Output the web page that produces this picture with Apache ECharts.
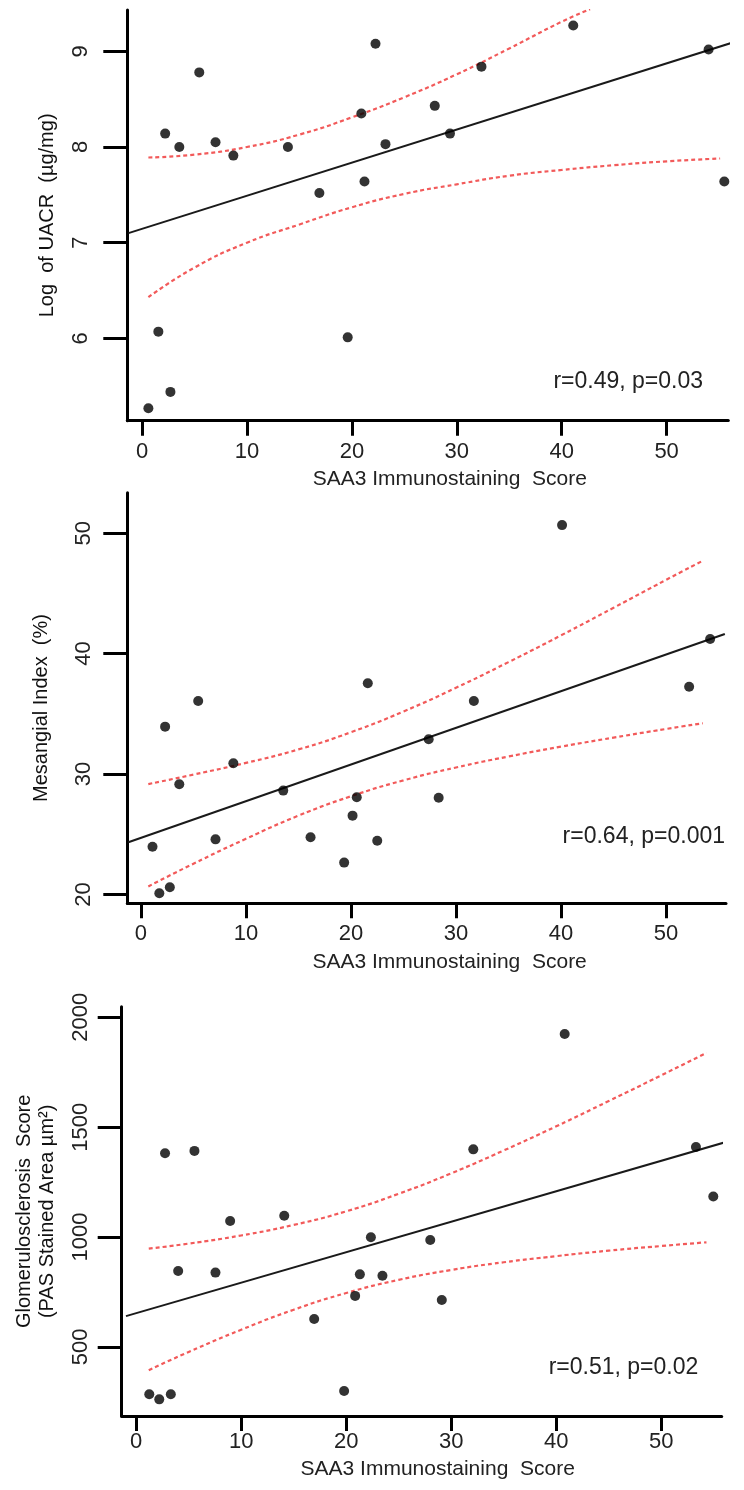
<!DOCTYPE html>
<html><head><meta charset="utf-8">
<script src="https://cdn.jsdelivr.net/npm/echarts@6/dist/echarts.min.js"></script>
<style>html,body{margin:0;padding:0;background:#fff}#c{width:744px;height:1490px}</style>
</head><body><div id="c"></div>
<script>
// ---- tick labels ----
const xTicks = [0, 10, 20, 30, 40, 50];
const uacrTicks = [6, 7, 8, 9];
const mesTicks = [20, 30, 40, 50];
const gsTicks = [500, 1000, 1500, 2000];

// ---- panel 1: Log of UACR ----
const uacrScore = [0.6, 1.55, 2.7, 2.2, 3.55, 5.45, 7.0, 8.7, 13.9, 16.9, 19.6, 20.9, 21.2, 22.25, 23.2, 27.9, 29.35, 32.35, 41.1, 54.0, 55.5];
const uacrValue = [5.27, 6.07, 5.44, 8.14, 8.00, 8.78, 8.05, 7.91, 8.00, 7.52, 6.01, 8.35, 7.64, 9.08, 8.03, 8.43, 8.14, 8.84, 9.27, 9.02, 7.64];
const uacrFitX = [-1.3, 57.4];
const uacrFitY = [7.10, 9.13];
const uacrUpperX = [0.6, 5, 10, 15, 20, 25, 30, 35, 40, 42.7];
const uacrUpperY = [7.89, 7.92, 8.00, 8.13, 8.31, 8.52, 8.76, 9.03, 9.31, 9.44];
const uacrLowerX = [0.6, 5, 10, 15, 20, 25, 30, 35, 40, 45, 50, 55.1];
const uacrLowerY = [6.43, 6.74, 7.00, 7.19, 7.37, 7.51, 7.61, 7.70, 7.76, 7.81, 7.85, 7.88];

// ---- panel 2: Mesangial Index ----
const mesScore = [1.1, 1.75, 2.75, 2.3, 3.65, 5.45, 7.1, 8.8, 13.55, 16.15, 19.35, 20.15, 20.55, 21.6, 22.5, 27.4, 28.35, 31.7, 40.1, 52.2, 54.2];
const mesValue = [23.96, 20.09, 20.59, 33.93, 29.14, 36.06, 24.57, 30.89, 28.62, 24.74, 22.64, 26.54, 28.06, 37.53, 24.46, 32.88, 28.03, 36.06, 50.67, 37.25, 41.21];
const mesFitX = [-1.2, 55.6];
const mesFitY = [24.33, 41.62];
const mesBandX = [0.7, 5, 10, 15, 20, 25, 30, 35, 40, 45, 50, 53.5];
const mesUpperY = [29.16, 29.95, 30.92, 32.04, 33.47, 35.19, 37.16, 39.29, 41.51, 43.80, 46.12, 47.71];
const mesLowerY = [20.66, 22.55, 24.62, 26.54, 28.15, 29.47, 30.54, 31.45, 32.27, 33.02, 33.74, 34.21];

// ---- panel 3: Glomerulosclerosis ----
const gsScore = [1.25, 2.2, 3.3, 2.75, 5.55, 4.0, 7.55, 8.95, 14.1, 16.95, 19.8, 20.85, 21.3, 22.35, 23.45, 28.0, 29.1, 32.1, 40.8, 53.3, 54.95];
const gsValue = [284, 261, 284, 1381, 1392, 845, 838, 1073, 1097, 627, 299, 732, 830, 999, 824, 986, 713, 1399, 1924, 1410, 1184];
const gsFitX = [-0.97, 55.9];
const gsFitY = [640, 1429];
const gsBandX = [1.2, 5, 10, 15, 20, 25, 30, 35, 40, 45, 50, 54.3];
const gsUpperY = [947, 970, 1007, 1055, 1117, 1197, 1290, 1394, 1504, 1619, 1736, 1838];
const gsLowerY = [394, 477, 578, 669, 745, 805, 850, 885, 913, 938, 959, 976];

const xTitle = 'SAA3 Immunostaining  Score';
const yTitles = ['Log  of UACR  (\u00b5g/mg)', 'Mesangial Index  (%)', 'Glomerulosclerosis  Score\n(PAS Stained Area \u00b5m\u00b2)'];
const stats = ['r=0.49, p=0.03', 'r=0.64, p=0.001', 'r=0.51, p=0.02'];

function pts(xs, ys) { return xs.map((x, i) => [x, ys[i]]); }

const font = "'Liberation Sans',Arial,sans-serif";

const panels = [
  { grid: {left: 127.3, top: 10, width: 601, height: 410.7},
    xr: [-1.41, 55.88], yr: [5.139, 9.432], yTicks: uacrTicks,
    pts: pts(uacrScore, uacrValue), fit: pts(uacrFitX, uacrFitY),
    up: pts(uacrUpperX, uacrUpperY), lo: pts(uacrLowerX, uacrLowerY),
    xLabelMargin: 20, xNameGap: 48.5, xNamePad: 44,
    yLabelMargin: 35, yNameGap: 70, yNamePad: [0, 0, 0, 0], yNameLH: 20, fitClip: false,
    stat: {right: 41, top: 370.5} },
  { grid: {left: 127.3, top: 492.7, width: 598.7, height: 410.6},
    xr: [-1.30, 55.71], yr: [19.26, 53.36], yTicks: mesTicks,
    pts: pts(mesScore, mesValue), fit: pts(mesFitX, mesFitY),
    up: pts(mesBandX, mesUpperY), lo: pts(mesBandX, mesLowerY),
    xLabelMargin: 20, xNameGap: 48.5, xNamePad: 46,
    yLabelMargin: 32, yNameGap: 76, yNamePad: [0, 20, 0, 0], yNameLH: 20, fitClip: true,
    stat: {right: 19, top: 825} },
  { grid: {left: 121.7, top: 1006.7, width: 600, height: 409.3},
    xr: [-1.376, 55.75], yr: [185.3, 2048.3], yTicks: gsTicks,
    pts: pts(gsScore, gsValue), fit: pts(gsFitX, gsFitY),
    up: pts(gsBandX, gsUpperY), lo: pts(gsBandX, gsLowerY),
    xLabelMargin: 15, xNameGap: 42.5, xNamePad: 32,
    yLabelMargin: 30, yNameGap: 62, yNamePad: [0, 0, 0, 0], yNameLH: 23.5, fitClip: true,
    stat: {right: 45.7, top: 1356} }
];

const axisLine = {show: true, onZero: false, lineStyle: {color: '#000', width: 3}};
const plain = v => String(v);

const option = {
  animation: false,
  backgroundColor: '#fff',
  title: panels.map((p, i) => ({
    text: stats[i], right: p.stat.right, top: p.stat.top, padding: 0,
    textStyle: {fontSize: 23, fontWeight: 'normal', fontFamily: font, color: '#222', lineHeight: 23}
  })),
  grid: panels.map(p => Object.assign({containLabel: false}, p.grid)),
  xAxis: panels.map((p, i) => ({
    type: 'value', gridIndex: i, min: p.xr[0], max: p.xr[1],
    axisLine: axisLine,
    axisTick: {show: true, length: 15, customValues: xTicks, lineStyle: {color: '#000', width: 3}},
    axisLabel: {customValues: xTicks, formatter: plain, margin: p.xLabelMargin, fontSize: 22, fontFamily: font, color: '#222'},
    splitLine: {show: false},
    name: xTitle, nameLocation: 'middle', nameGap: p.xNameGap,
    nameTextStyle: {fontSize: 21, fontFamily: font, color: '#222', lineHeight: 21, padding: [0, 0, 0, p.xNamePad]}
  })),
  yAxis: panels.map((p, i) => ({
    type: 'value', gridIndex: i, min: p.yr[0], max: p.yr[1],
    axisLine: axisLine,
    axisTick: {show: true, length: 24, customValues: p.yTicks, lineStyle: {color: '#000', width: 3}},
    axisLabel: {customValues: p.yTicks, formatter: plain, rotate: 90, margin: p.yLabelMargin, fontSize: 22, fontFamily: font, color: '#222'},
    splitLine: {show: false},
    name: yTitles[i], nameLocation: 'middle', nameRotate: 90, nameGap: p.yNameGap,
    nameTextStyle: {fontSize: 20, fontFamily: font, color: '#111', lineHeight: p.yNameLH, padding: p.yNamePad}
  })),
  series: panels.flatMap((p, i) => [
    {type: 'line', xAxisIndex: i, yAxisIndex: i, data: p.up, smooth: true, symbol: 'none', silent: true,
     lineStyle: {color: '#f25a5a', width: 2.2, type: [4, 3]}, z: 2},
    {type: 'line', xAxisIndex: i, yAxisIndex: i, data: p.lo, smooth: true, symbol: 'none', silent: true,
     lineStyle: {color: '#f25a5a', width: 2.2, type: [4, 3]}, z: 2},
    {type: 'line', xAxisIndex: i, yAxisIndex: i, data: p.fit, symbol: 'none', silent: true, clip: p.fitClip,
     lineStyle: {color: '#1a1a1a', width: 2}, z: 3},
    {type: 'scatter', xAxisIndex: i, yAxisIndex: i, data: p.pts, symbolSize: 10,
     itemStyle: {color: '#000'}, z: 5}
  ])
};

const chart = echarts.init(document.getElementById('c'), null, {renderer: 'canvas'});
chart.setOption(option);
</script>
</body></html>
